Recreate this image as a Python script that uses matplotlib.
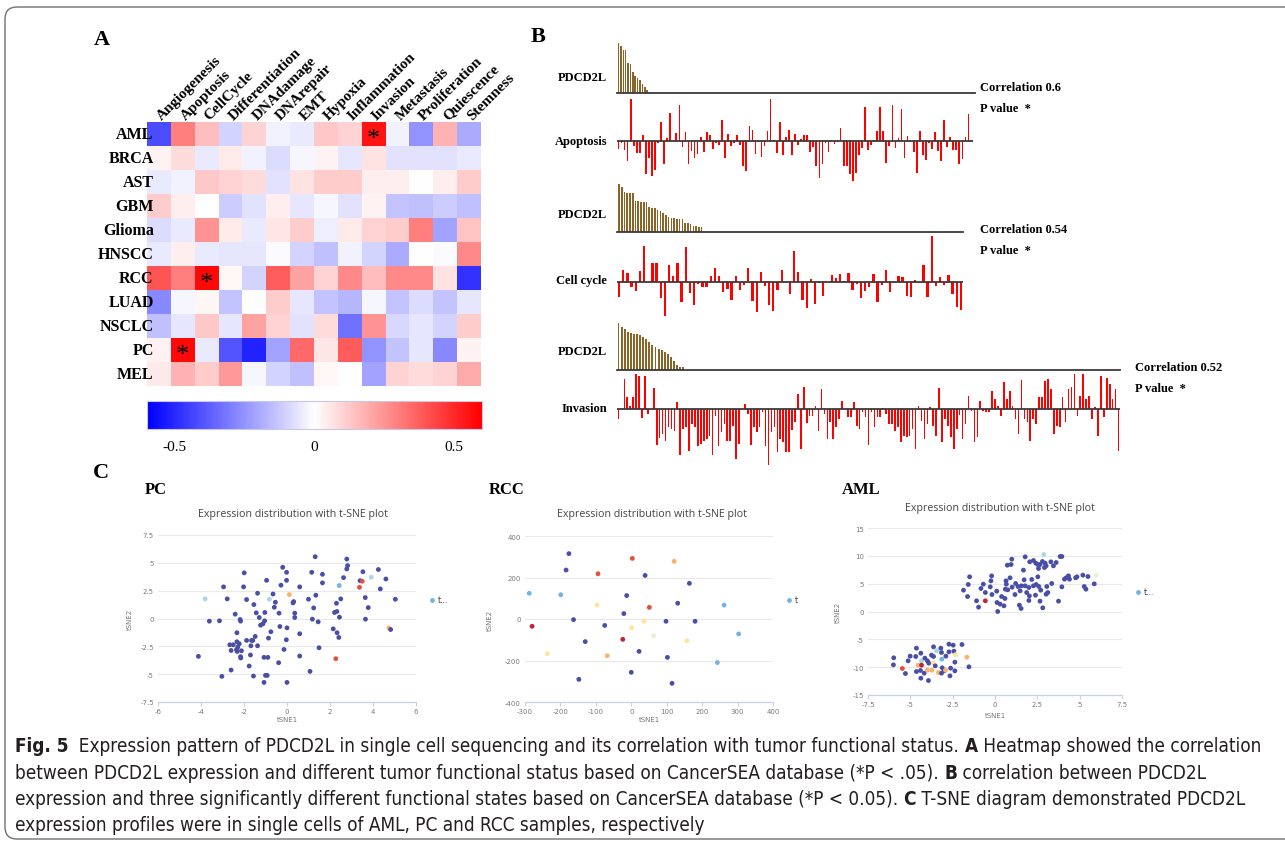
import os
import numpy as np
import matplotlib
matplotlib.use('Agg')
import matplotlib.pyplot as plt
from matplotlib.patches import FancyBboxPatch
from matplotlib import font_manager
from matplotlib.font_manager import FontProperties

W, H = 1285, 845

# ---------------- panel A : correlation heatmap ----------------
functions = ['Angiogenesis', 'Apoptosis', 'CellCycle', 'Differentiation', 'DNAdamage',
             'DNArepair', 'EMT', 'Hypoxia', 'Inflammation', 'Invasion', 'Metastasis',
             'Proliferation', 'Quiescence', 'Stemness']
cancers = ['AML', 'BRCA', 'AST', 'GBM', 'Glioma', 'HNSCC', 'RCC', 'LUAD', 'NSCLC', 'PC', 'MEL']

corr_aml = [-0.42, 0.30, 0.15, -0.10, 0.10, -0.03, -0.05, 0.13, 0.10, 0.55, -0.03, -0.25, 0.18, -0.20]
corr_brca = [0.03, 0.08, -0.05, 0.05, -0.03, -0.08, -0.02, 0.03, -0.06, 0.07, -0.07, -0.07, -0.07, -0.05]
corr_ast = [-0.05, -0.03, 0.13, 0.10, 0.08, -0.07, 0.07, 0.12, 0.12, 0.04, 0.04, 0.0, 0.04, 0.12]
corr_gbm = [0.12, 0.04, 0.0, -0.12, -0.07, 0.04, -0.06, -0.02, -0.07, 0.03, -0.14, -0.15, -0.12, -0.15]
corr_glioma = [-0.08, -0.05, 0.25, 0.05, -0.05, 0.06, 0.12, -0.04, 0.05, 0.10, 0.12, 0.30, -0.22, 0.14]
corr_hnscc = [-0.05, 0.04, -0.05, -0.06, -0.06, -0.01, -0.10, -0.15, -0.03, -0.10, -0.20, 0.0, -0.01, 0.28]
corr_rcc = [0.40, 0.30, 0.58, 0.02, -0.10, 0.38, 0.22, 0.10, 0.28, 0.15, 0.28, 0.28, 0.07, -0.48]
corr_luad = [-0.28, -0.02, 0.02, -0.14, 0.0, 0.12, -0.06, -0.14, -0.17, -0.02, -0.14, -0.08, -0.14, -0.06]
corr_nsclc = [-0.15, -0.06, 0.13, -0.06, 0.22, 0.10, -0.07, 0.08, -0.33, 0.25, -0.09, -0.06, -0.10, 0.12]
corr_pc = [0.03, 0.58, -0.05, -0.40, -0.52, -0.22, 0.35, 0.06, 0.38, -0.25, -0.14, -0.06, -0.28, 0.03]
corr_mel = [0.05, 0.18, 0.12, 0.24, -0.02, -0.10, -0.15, 0.02, 0.0, -0.22, 0.10, 0.08, 0.10, 0.20]
significant = [('AML', 'Invasion'), ('RCC', 'CellCycle'), ('PC', 'Apoptosis')]
cbar_ticks = [-0.5, 0, 0.5]
cbar_labels = ['-0.5', '0', '0.5']

# ---------------- panel B : PDCD2L vs functional state ----------------
apoptosis_pdcd2l = [150, 142, 130, 128, 90, 88, 62, 52, 45, 40, 28, 18, 10, 3]
apoptosis_score = [-22, -5, -25, -60, 128, -15, -35, -35, 20, -97, -50, -103, -85, -5, 58, -68, 10, 85,
                   2, 25, 108, -18, 28, -68, -30, -50, -38, 12, -33, 28, 18, -23, -5, -10, 63, -50, 22,
                   -15, -5, 20, -10, -73, -90, 45, 35, -38, -3, -48, -15, 30, 128, 5, -35, 57, -42, 12,
                   35, -40, 23, -10, 8, 20, 18, -33, -18, -75, -110, -68, -5, -32, 2, -8, 2, 40, -75,
                   -75, -98, -118, -95, -40, -20, 102, -25, -12, 3, 30, 103, 30, -65, -15, 108, -20, 10,
                   96, -50, 15, -2, -32, -95, 30, -42, -55, -5, -23, 27, -28, -58, 65, -18, 12, -25,
                   -25, -68, -53, 12, 83, -3]
cellcycle_pdcd2l = [143, 133, 120, 117, 117, 117, 93, 91, 90, 90, 88, 73, 72, 70, 65, 63, 55, 50, 45,
                    42, 40, 38, 38, 38, 25, 25, 22, 17, 17, 15, 15]
cellcycle_score = [-45, 38, 27, -15, -25, 35, 110, 2, 57, 57, -47, -100, 53, 18, 57, -58, 107, -32, -68,
                   -5, -15, -15, 20, 42, 20, -30, -20, -52, 20, -22, -8, 42, -57, -90, 30, -10, -67, -85,
                   -22, 37, 2, -35, 93, 30, -52, -77, 10, -65, -2, -42, 0, 22, 12, 25, 5, 28, -22, -5,
                   -48, -25, -15, 25, -60, -8, 37, -30, 0, 20, 17, -42, -45, 8, 0, 52, -45, 140, -12, 15,
                   -7, 22, -35, -73, -82]
invasion_pdcd2l = [140, 128, 122, 115, 110, 108, 108, 106, 100, 94, 84, 76, 68, 64, 60, 55, 48, 40, 28,
                   16, 8, 8]
invasion_score = [-30, 0, 90, 35, 10, 35, 105, 100, -28, 100, -15, 0, 62, -107, -88, -75, -95, -55, -60,
                  -65, 20, -138, -60, -55, -125, -45, -55, -110, -105, -95, -90, -80, -138, -20, -110,
                  -70, -45, -95, -95, -50, -150, -105, 0, 15, -15, -107, -55, -70, -55, -10, -110, -168,
                  -70, -55, -130, -90, -100, -130, -130, -62, -40, 45, -120, 65, -42, -20, -22, 8, -65,
                  60, -15, -90, -38, -90, -55, -30, 25, 0, -25, -25, 20, -50, -60, -10, -25, -108, -10,
                  -55, -25, -25, 3, -15, -45, -45, -65, -55, -100, -80, -85, -80, -60, -120, 10, -35,
                  -90, -45, 5, -50, -80, 62, -100, -30, -50, -85, -120, -60, -18, -90, -45, 40, -5, -100,
                  -85, 25, -5, -10, -10, 55, 30, 10, -20, 82, 30, 55, 8, -30, -75, 88, -30, -40, -95,
                  -30, -45, 35, 35, 85, 90, 60, -75, -50, -55, 35, -40, 60, 65, 105, -20, 40, 105, 30,
                  40, -30, 5, -82, 98, -25, 92, 75, 30, 60, -125]
b_states = ['Apoptosis', 'Cell cycle', 'Invasion']
b_correlations = ['0.6', '0.54', '0.52']

# ---------------- panel C : t-SNE ----------------
pc_cells = [(1.31, 5.55, 'd'), (2.78, 5.34, 'd'), (2.82, 4.75, 'd'), (2.78, 4.45, 'd'), (-0.2, 4.6, 'd'),
            (-0.02, 4.15, 'd'), (-1.99, 4.1, 'd'), (1.15, 4.15, 'd'), (1.65, 3.97, 'd'), (2.63, 3.67, 'd'),
            (3.53, 4.2, 'd'), (4.25, 4.4, 'd'), (4.6, 3.55, 'd'), (3.92, 3.7, 'lb'), (3.4, 3.4, 'd'),
            (3.5, 3.35, 'r'), (3.37, 2.8, 'r'), (2.43, 2.96, 'b'), (4.34, 2.66, 'd'), (-2.95, 2.84, 'd'),
            (-2.02, 2.84, 'd'), (-0.95, 3.43, 'd'), (-0.02, 3.43, 'd'), (-0.28, 2.99, 'd'), (0.59, 2.84, 'd'),
            (1.65, 3.2, 'd'), (-1.37, 2.27, 'd'), (-0.65, 2.2, 'd'), (0.11, 2.15, 'o'), (1.34, 2.09, 'd'),
            (-3.81, 1.76, 'lb'), (-2.78, 1.76, 'd'), (-1.88, 1.7, 'd'), (-0.82, 1.73, 'lb'), (-0.54, 1.46, 'd'),
            (0.28, 1.4, 'd'), (0.31, 1.52, 'd'), (1.0, 1.73, 'd'), (2.5, 1.76, 'd'), (2.3, 1.37, 'd'),
            (3.64, 1.88, 'd'), (5.04, 1.73, 'd'), (-1.54, 1.25, 'd'), (-0.59, 1.01, 'd'), (1.24, 0.95, 'd'),
            (3.78, 0.98, 'd'), (-2.41, 0.39, 'd'), (-1.43, 0.51, 'd'), (-1.03, 0.54, 'd'), (-0.37, 0.48, 'd'),
            (0.36, 0.48, 'd'), (2.21, 0.54, 'd'), (2.32, 0.63, 'd'), (-3.61, -0.24, 'd'), (-3.14, -0.21, 'd'),
            (-2.18, -0.09, 'd'), (-2.16, -0.24, 'd'), (-1.29, 0.09, 'd'), (-1.04, -0.21, 'd'), (-1.23, -0.6, 'd'),
            (0.36, 0.09, 'd'), (1.18, -0.06, 'd'), (1.45, -0.3, 'd'), (2.44, 0.12, 'd'), (3.65, -0.06, 'd'),
            (-1.12, -0.48, 'd'), (-0.33, -0.72, 'd'), (0.0, -0.84, 'd'), (2.15, -0.93, 'd'), (2.33, -1.28, 'd'),
            (2.41, -1.7, 'd'), (4.74, -0.84, 'o'), (4.82, -0.99, 'd'), (-2.33, -1.28, 'd'), (-0.75, -1.19, 'd'),
            (0.59, -1.37, 'd'), (-1.48, -1.61, 'd'), (-0.86, -1.76, 'd'), (-1.65, -1.97, 'd'), (-1.59, -1.97, 'd'),
            (-1.88, -1.97, 'd'), (-2.33, -2.09, 'd'), (-0.03, -1.91, 'd'), (-2.66, -2.36, 'd'), (-2.5, -2.36, 'd'),
            (-2.22, -2.27, 'd'), (-2.29, -2.57, 'd'), (-1.68, -2.45, 'd'), (-1.37, -2.45, 'd'), (-2.35, -2.81, 'd'),
            (-2.32, -2.96, 'd'), (-2.6, -2.87, 'd'), (-2.12, -2.9, 'd'), (-0.14, -2.78, 'd'), (1.49, -2.63, 'd'),
            (-1.7, -3.28, 'd'), (-2.16, -3.43, 'd'), (-2.15, -3.55, 'd'), (-1.07, -3.49, 'd'), (-0.89, -3.49, 'd'),
            (0.59, -3.37, 'd'), (-4.12, -3.4, 'd'), (-0.39, -3.97, 'd'), (2.27, -3.61, 'r'), (-1.76, -4.27, 'd'),
            (-2.6, -4.63, 'd'), (1.07, -4.75, 'd'), (-3.03, -5.2, 'd'), (-1.56, -5.17, 'd'), (-1.0, -5.11, 'd'),
            (-0.92, -5.11, 'd'), (-1.07, -5.74, 'd'), (0.0, -5.74, 'd')]
rcc_cells = [(-176, 315, 'd'), (-184, 236, 'd'), (3, 292, 'r'), (121, 278, 'o'), (-94, 218, 'r'),
             (39, 210, 'd'), (164, 172, 'd'), (-288, 124, 'b'), (-199, 117, 'b'), (-13, 113, 'd'),
             (262, 67, 'b'), (-97, 67, 'y'), (51, 56, 'r'), (131, 76, 'd'), (-21, 26, 'd'),
             (-163, -3, 'd'), (-75, -31, 'd'), (36, -11, 'y'), (1, -42, 'y'), (98, -11, 'd'),
             (180, -11, 'd'), (-280, -35, 'dr'), (303, -72, 'b'), (63, -80, 'g'), (157, -104, 'y'),
             (-24, -98, 'dr'), (-130, -109, 'd'), (-237, -167, 'y'), (-68, -177, 'o'), (22, -156, 'd'),
             (102, -185, 'd'), (243, -210, 'b'), (0, -257, 'd'), (-148, -291, 'd'), (115, -310, 'd')]
aml_cells = [(2.88, 10.24, 'lb'), (1.78, 9.82, 'd'), (0.99, 9.4, 'd'), (2.05, 8.92, 'd'), (2.27, 9.16, 'd'),
             (2.41, 8.68, 'd'), (2.53, 8.44, 'd'), (2.66, 8.44, 'd'), (2.8, 8.98, 'd'), (2.96, 8.68, 'd'),
             (3.02, 8.2, 'd'), (2.92, 7.9, 'd'), (3.3, 8.92, 'd'), (3.45, 8.2, 'd'), (3.61, 8.8, 'd'),
             (3.85, 9.88, 'd'), (3.95, 9.88, 'd'), (0.73, 8.32, 'd'), (0.95, 8.44, 'd'), (1.68, 7.43, 'd'),
             (2.57, 7.72, 'd'), (-0.2, 6.4, 'd'), (-1.5, 6.23, 'd'), (-1.58, 4.85, 'd'), (-1.86, 3.83, 'd'),
             (-1.62, 2.69, 'd'), (-0.83, 4.13, 'd'), (-0.69, 4.91, 'd'), (-0.24, 5.51, 'd'), (-0.28, 4.43, 'd'),
             (-0.57, 3.41, 'd'), (-1.09, 1.92, 'd'), (-0.97, 0.78, 'd'), (-0.57, 1.92, 'dr'), (-0.18, 3.05, 'd'),
             (0.1, 3.65, 'd'), (0.39, 2.69, 'd'), (0.12, 1.62, 'd'), (0.3, 1.32, 'd'), (0.16, 0.0, 'd'),
             (0.65, 5.51, 'd'), (0.67, 4.91, 'd'), (0.89, 6.05, 'd'), (0.75, 3.89, 'd'), (1.01, 4.37, 'd'),
             (1.22, 5.03, 'd'), (1.36, 4.49, 'd'), (1.56, 4.61, 'd'), (1.72, 5.69, 'd'), (1.78, 4.61, 'd'),
             (2.0, 4.31, 'd'), (1.48, 3.71, 'd'), (1.87, 3.41, 'd'), (2.03, 2.81, 'd'), (1.44, 1.14, 'd'),
             (1.54, 0.54, 'd'), (2.0, 1.98, 'd'), (2.39, 2.93, 'd'), (2.27, 4.61, 'd'), (2.43, 4.85, 'd'),
             (2.53, 6.23, 'd'), (2.59, 4.49, 'd'), (2.7, 3.83, 'd'), (3.06, 4.49, 'd'), (3.02, 3.11, 'd'),
             (2.66, 1.86, 'd'), (2.82, 0.66, 'd'), (3.12, 3.41, 'd'), (3.35, 5.03, 'd'), (3.75, 1.86, 'd'),
             (3.95, 4.43, 'd'), (4.1, 5.81, 'd'), (4.2, 6.05, 'd'), (4.34, 6.41, 'd'), (4.4, 5.81, 'd'),
             (4.76, 6.05, 'd'), (4.84, 6.23, 'd'), (5.19, 6.53, 'd'), (5.27, 4.49, 'd'), (5.37, 4.01, 'd'),
             (5.49, 6.29, 'd'), (5.86, 4.97, 'd'), (5.98, 6.47, 'g'), (2.17, 5.75, 'd'), (1.18, 3.05, 'd'),
             (0.59, 2.34, 'd'), (0.61, 4.01, 'd'), (0.53, 1.02, 'd'),
             (-5.98, -8.32, 'd'), (-6.0, -9.58, 'd'), (-5.47, -10.24, 'r'), (-5.29, -11.14, 'd'),
             (-5.13, -8.86, 'd'), (-5.01, -8.02, 'd'), (-4.68, -8.08, 'd'), (-4.64, -6.59, 'd'),
             (-4.38, -7.49, 'd'), (-4.34, -8.86, 'lb'), (-4.54, -9.64, 'o'), (-4.34, -9.64, 'dr'),
             (-4.64, -10.78, 'd'), (-4.4, -10.6, 'd'), (-4.18, -11.08, 'd'), (-4.38, -11.98, 'd'),
             (-3.93, -12.4, 'd'), (-3.99, -10.54, 'o'), (-4.14, -8.38, 'd'), (-3.99, -8.86, 'd'),
             (-3.91, -9.28, 'd'), (-3.75, -7.84, 'd'), (-3.63, -6.35, 'd'), (-3.63, -8.08, 'd'),
             (-3.65, -9.22, 'y'), (-3.73, -10.54, 'o'), (-3.53, -9.76, 'd'), (-3.45, -7.07, 'lb'),
             (-3.34, -10.96, 'o'), (-3.2, -6.59, 'd'), (-3.16, -7.37, 'd'), (-3.14, -8.56, 'b'),
             (-3.12, -10.12, 'd'), (-3.16, -11.08, 'd'), (-3.0, -10.66, 'd'), (-2.92, -10.54, 'o'),
             (-2.9, -8.02, 'd'), (-2.72, -5.87, 'd'), (-2.72, -7.25, 'd'), (-2.62, -10.18, 'd'),
             (-2.66, -11.56, 'd'), (-2.47, -6.05, 'd'), (-2.43, -7.13, 'd'), (-2.37, -9.1, 'd'),
             (-2.37, -10.66, 'd'), (-2.33, -7.78, 'y'), (-1.95, -5.93, 'd'), (-1.66, -8.2, 'o'),
             (-1.54, -9.94, 'd')]
pc_xticks = [-6, -4, -2, 0, 2, 4, 6]
pc_yticks = [-7.5, -5, -2.5, 0, 2.5, 5, 7.5]
rcc_xticks = [-300, -200, -100, 0, 100, 200, 300, 400]
rcc_yticks = [-400, -200, 0, 200, 400]
aml_xticks = [-7.5, -5, -2.5, 0, 2.5, 5, 7.5]
aml_yticks = [-15, -10, -5, 0, 5, 10, 15]

# caption lines as (text, bold) pieces
caption_1 = [('Fig. 5', True), ('  Expression pattern of PDCD2L in single cell sequencing and its '
             'correlation with tumor functional status. ', False), ('A', True),
             (' Heatmap showed the correlation', False)]
caption_2 = [('between PDCD2L expression and different tumor functional status based on CancerSEA '
              'database (*P < .05). ', False), ('B', True), (' correlation between PDCD2L', False)]
caption_3 = [('expression and three significantly different functional states based on CancerSEA '
              'database (*P < 0.05). ', False), ('C', True), (' T-SNE diagram demonstrated PDCD2L', False)]
caption_4 = [('expression profiles were in single cells of AML, PC and RCC samples, respectively', False)]

# ---------------- styling ----------------
SERIF = 'Liberation Serif'


def find_font(candidates):
    for cand in candidates:
        for f in font_manager.fontManager.ttflist:
            if os.path.basename(f.fname).lower().startswith(cand.lower()):
                return f.fname
    return None


narrow_reg = find_font(['LiberationSansNarrow-Regular', 'DejaVuSansCondensed.', 'RobotoCondensed-Regular',
                        'NotoSans-Condensed.', 'NotoSansCondensed-Regular', 'OpenSans_Condensed-Regular',
                        'OpenSansCondensed-Regular'])
narrow_bold = find_font(['LiberationSansNarrow-Bold.', 'DejaVuSansCondensed-Bold.', 'RobotoCondensed-Bold.',
                         'NotoSans-CondensedBold.', 'NotoSansCondensed-Bold.', 'OpenSans_Condensed-Bold.',
                         'OpenSansCondensed-Bold.'])
if narrow_reg and narrow_bold:
    CAP_REG = FontProperties(fname=narrow_reg)
    CAP_BOLD = FontProperties(fname=narrow_bold)
else:
    CAP_REG = FontProperties(family='DejaVu Sans', stretch='condensed')
    CAP_BOLD = FontProperties(family='DejaVu Sans', stretch='condensed', weight='bold')

dot_colors = {'d': '#4a4fa6', 'lb': '#a9d6ee', 'b': '#74b3e2', 'r': '#e4503f', 'dr': '#c2253a',
              'o': '#f8b36d', 'y': '#fde59a', 'g': '#e3f3cf'}
BROWN = '#8b6427'

fig = plt.figure(figsize=(W / 100, H / 100), dpi=100)
bg = fig.add_axes([0, 0, 1, 1])
bg.set_xlim(0, W)
bg.set_ylim(H, 0)
bg.axis('off')
bg.add_patch(FancyBboxPatch((5, 8), 1320, 832, boxstyle='round,pad=0,rounding_size=12',
                            ec='#707070', fc='none', lw=1.0))
renderer = fig.canvas.get_renderer()


def px_axes(x0, y0, x1, y1):
    return fig.add_axes([x0 / W, 1 - y1 / H, (x1 - x0) / W, (y1 - y0) / H])


def ptext(x, y, s, **kw):
    return bg.text(x, y, s, **kw)


# ---- A
ptext(102, 40, 'A', family=SERIF, weight='bold', fontsize=16, ha='center', va='center')
corr = np.array([corr_aml, corr_brca, corr_ast, corr_gbm, corr_glioma, corr_hnscc, corr_rcc,
                 corr_luad, corr_nsclc, corr_pc, corr_mel])
axA = px_axes(147, 123, 481, 387)
axA.imshow(corr, cmap='bwr', vmin=-0.6, vmax=0.6, aspect='auto', interpolation='nearest')
axA.axis('off')
for i, name in enumerate(cancers):
    axA.text(-0.22, i, name, family=SERIF, weight='bold', fontsize=11.5, ha='right', va='center')
for j, name in enumerate(functions):
    axA.text(j + 0.12, -0.58, name, family=SERIF, weight='bold', fontsize=11, rotation=45,
             rotation_mode='anchor', ha='left', va='baseline')
for cname, fname in significant:
    axA.text(functions.index(fname), cancers.index(cname) + 0.22, '*', family=SERIF,
             fontsize=19, ha='center', va='center')

axCb = px_axes(147, 402, 482, 430)
axCb.imshow(np.linspace(-0.6, 0.6, 300)[None, :], cmap='bwr', vmin=-0.6, vmax=0.6,
            extent=[-0.6, 0.6, 0, 1], aspect='auto')
axCb.set_yticks([])
axCb.set_xticks(cbar_ticks)
axCb.set_xticklabels(cbar_labels, family=SERIF, fontsize=11)
axCb.tick_params(axis='x', length=0, pad=8)
for s in axCb.spines.values():
    s.set_color('#c8c8ec')
    s.set_linewidth(0.8)

# ---- B
ptext(538, 37, 'B', family=SERIF, weight='bold', fontsize=16, ha='center', va='center')
b_layout = [
    # brown box, red box, red ylim, brown step, label ys, corr text pos
    ((617, 44, 975, 94), (617, 99, 973, 182), (-119, 130), 0.78, (78, 142), (980, 88)),
    ((617, 185, 963, 232.7), (617, 234, 963, 318), (-104, 148), 0.66, (215, 281), (980, 230)),
    ((617, 324.3, 1120, 371), (617, 373, 1120, 468), (-174, 111), 1.05, (352, 409), (1135, 368)),
]
b_data = [(apoptosis_pdcd2l, apoptosis_score), (cellcycle_pdcd2l, cellcycle_score),
          (invasion_pdcd2l, invasion_score)]
for k, ((brown_box, red_box, red_ylim, step, label_y, corr_pos), (pd_vals, sc_vals)) in \
        enumerate(zip(b_layout, b_data)):
    n = len(sc_vals)
    axr = px_axes(*red_box)
    axr.bar(np.arange(n), sc_vals, width=0.55, color='#ff0000', lw=0)
    axr.axhline(0, color='#3a3a3a', lw=1.3)
    axr.set_xlim(-0.5, n - 0.5)
    axr.set_ylim(*red_ylim)
    axr.axis('off')
    axb = px_axes(*brown_box)
    axb.bar(np.arange(len(pd_vals)) * step, pd_vals, width=0.62 * step, color=BROWN, lw=0)
    axb.axhline(0, color='#3a3a3a', lw=1.3, clip_on=False)
    axb.set_xlim(-0.5, n - 0.5)
    axb.set_ylim(0, max(pd_vals))
    axb.axis('off')
    ptext(607, label_y[0], 'PDCD2L', family=SERIF, weight='bold', fontsize=9, ha='right', va='center')
    ptext(607, label_y[1], b_states[k], family=SERIF, weight='bold', fontsize=9, ha='right', va='center')
    ptext(corr_pos[0], corr_pos[1], 'Correlation ' + b_correlations[k], family=SERIF, weight='bold',
          fontsize=9, ha='left', va='center')
    ptext(corr_pos[0], corr_pos[1] + 21, 'P value  *', family=SERIF, weight='bold',
          fontsize=9, ha='left', va='center')

# ---- C
ptext(101, 473, 'C', family=SERIF, weight='bold', fontsize=16, ha='center', va='center')


def tsne_panel(cells, box, xticks, yticks, name, name_x, title_x, title_y, leg, ylab_x, xlab_y):
    ax = px_axes(*box)
    xs = [c[0] for c in cells]
    ys = [c[1] for c in cells]
    cs = [dot_colors[c[2]] for c in cells]
    ax.scatter(xs, ys, s=12, c=cs, linewidths=0, zorder=3)
    ax.set_xlim(xticks[0], xticks[-1])
    ax.set_ylim(yticks[0], yticks[-1])
    ax.set_xticks(xticks)
    ax.set_xticklabels([f'{t:g}' for t in xticks])
    ax.set_yticks(yticks)
    ax.set_yticklabels([f'{t:g}' for t in yticks])
    for s in ['top', 'right', 'left']:
        ax.spines[s].set_visible(False)
    ax.spines['bottom'].set_color('#c6d0e6')
    ax.spines['bottom'].set_linewidth(0.9)
    ax.tick_params(axis='y', length=0, labelsize=5, labelcolor='#7a7a7a', pad=3)
    ax.tick_params(axis='x', length=3, width=0.8, color='#c6d0e6', labelsize=5,
                   labelcolor='#7a7a7a', pad=1.5)
    ax.grid(axis='y', color='#e9e9e9', lw=0.8)
    ax.set_axisbelow(True)
    ax.set_facecolor('none')
    cy = (box[1] + box[3]) / 2
    ptext(name_x, 490, name, family=SERIF, weight='bold', fontsize=12, ha='left', va='center')
    ptext(title_x, title_y, 'Expression distribution with t-SNE plot', family='Open Sans',
          fontsize=7.7, color='#444444', ha='center', va='center')
    bg.scatter([leg[0]], [leg[1]], s=12, color=dot_colors['b'], linewidths=0)
    ptext(leg[0] + 6, leg[1], leg[2], family='DejaVu Sans', fontsize=5.5, color='#333333',
          ha='left', va='center')
    ptext(ylab_x, cy, 'tSNE2', family='DejaVu Sans', fontsize=5, color='#777777', rotation=90,
          ha='center', va='center')
    ptext((box[0] + box[2]) / 2, xlab_y, 'tSNE1', family='DejaVu Sans', fontsize=5,
          color='#777777', ha='center', va='center')


tsne_panel(pc_cells, (158, 536, 416, 703), pc_xticks, pc_yticks, 'PC', 145, 293, 515,
           (432, 601, 't...'), 130, 720)
tsne_panel(rcc_cells, (525, 537, 773, 703), rcc_xticks, rcc_yticks, 'RCC', 489, 652, 515,
           (789, 601, 't'), 490, 720)
tsne_panel(aml_cells, (868, 529, 1122, 696), aml_xticks, aml_yticks, 'AML', 842, 1000, 508,
           (1138, 593, 't...'), 838, 716)


# ---- caption, drawn piece by piece so the bold letters sit inline
def piece_width(s, fp, size):
    t = ptext(0, 0, s.replace(' ', '\u00a0'), fontproperties=fp, fontsize=size)
    w = t.get_window_extent(renderer).width
    t.remove()
    return w


base = 10.0
line_w = sum(piece_width(s, CAP_BOLD if b else CAP_REG, base) for s, b in caption_1)
cap_size = base * 1250 / line_w

for k, pieces in enumerate([caption_1, caption_2, caption_3, caption_4]):
    x = 15
    y = 747 + k * 26.3
    for s, b in pieces:
        fp = CAP_BOLD if b else CAP_REG
        ptext(x, y, s.replace(' ', '\u00a0'), fontproperties=fp, fontsize=cap_size, color='#231f20',
              ha='left', va='center')
        x += piece_width(s, fp, cap_size)

fig.savefig('out.png', dpi=100)
